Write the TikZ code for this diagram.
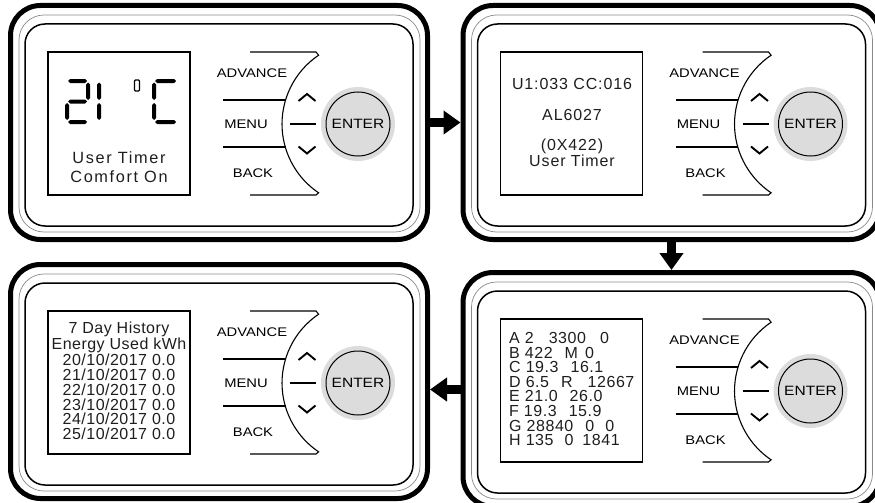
\documentclass[tikz,border=0pt]{standalone}
\usepackage{fontspec}
\setmainfont{Liberation Sans}
\newfontfamily\scrfont{Liberation Sans}
\usetikzlibrary{arrows.meta}
\definecolor{enterfill}{HTML}{DCDCDC}
\definecolor{scrtxt}{HTML}{1E1E1E}
\definecolor{thingray}{HTML}{8A8A8A}

\newcommand{\segh}[3]{%
  \fill (#1,#3) -- ({#1+2},{#3-2}) -- ({#2-2},{#3-2}) -- (#2,#3) -- ({#2-2},{#3+2}) -- ({#1+2},{#3+2}) -- cycle;}
\newcommand{\segv}[3]{%
  \fill (#1,#2) -- ({#1+2},{#2+2}) -- ({#1+2},{#3-2}) -- (#1,#3) -- ({#1-2},{#3-2}) -- ({#1-2},{#2+2}) -- cycle;}
\newcommand{\btntxt}[1]{\scalebox{1.18}[1]{\fontsize{12.5pt}{13pt}\selectfont #1}}

\newcommand{\panelinside}[1]{%
  \draw[thinln] (19,15) rectangle (420,232);
  \draw[medln] (25,24) rectangle (413,226);
  \draw[screenln] (48,52) rectangle (190,195);
  \draw[btnln] (250,52) -- (316,52) -- (318.6,55.2) arc[start angle=124,end angle=236,radius=83pt] -- (316,195) -- (250,195);
  \draw[btnln] (223,100) -- (285.5,100);
  \draw[btnln] (223,147) -- (285.5,147);
  \draw[btnln] (290,124) -- (316,124);
  \draw[chev] (298.5,101) -- (307,94) -- (315.5,101);
  \draw[chev] (298.5,146.5) -- (307,153.5) -- (315.5,146.5);
  \fill[enterfill] (358,124) circle[radius=37pt];
  \node[entercirc] (#1enter) at (358,124) {\scalebox{1.15}[1]{\fontsize{13.5pt}{14pt}\selectfont ENTER}};
  \node[btnlbl] (#1adv) at (252,73) {\btntxt{ADVANCE}};
  \node[btnlbl] (#1menu) at (246,124) {\btntxt{MENU}};
  \node[btnlbl] (#1back) at (253,173) {\btntxt{BACK}};
}

\begin{document}
\begin{tikzpicture}[x=1pt,y=-1pt,
  frame/.style={draw, line width=5pt, rounded corners=30pt, minimum width=417pt, minimum height=234pt, inner sep=0pt},
  thinln/.style={draw=thingray, line width=0.7pt, rounded corners=25pt},
  medln/.style={draw=black, line width=1.5pt, rounded corners=20pt},
  screenln/.style={draw=black, line width=1.1pt},
  btnln/.style={draw=black, line width=1.1pt},
  chev/.style={draw=black, line width=1.9pt},
  entercirc/.style={circle, draw=black, line width=1pt, minimum size=64pt, inner sep=0pt},
  btnlbl/.style={inner sep=0pt, text=black},
  scr/.style={inner sep=0pt, text=scrtxt, font=\scrfont\fontsize{16pt}{18pt}\selectfont},
  flowarrow/.style={line width=9pt, -{Triangle[length=17pt,width=23pt]}}]
\useasboundingbox (0,0) rectangle (875,503);

\node[frame] (p1) at (219,122.5) {};
\node[frame] (p2) at (671.5,122.5) {};
\node[frame] (p3) at (219,381.5) {};
\node[frame] (p4) at (671.5,389.5) {};

% panel 1
\begin{scope}
  \panelinside{p1}
  \begin{scope}[fill=black]
    % digit 2
    \segh{68}{87}{81}
    \segv{88}{82.5}{100}
    \segh{68}{87}{101.5}
    \segv{67}{103}{120}
    \segh{68}{87}{122}
    % digit 1
    \segv{99}{82.5}{100}
    \segv{99}{103}{120}
    % C
    \segh{155}{176}{81}
    \segv{154}{82.5}{100}
    \segv{154}{103}{120}
    \segh{155}{176}{122}
  \end{scope}
  \draw[line width=1.1pt, rounded corners=1pt] (134.5,80) rectangle (139.5,91);
  \node[scr, align=center, font=\scrfont\fontsize{16.3pt}{18.5pt}\selectfont\addfontfeature{LetterSpace=10}] (p1txt) at (119,167) {User Timer\\Comfort On};
\end{scope}

% panel 2
\begin{scope}[shift={(452.5,0)}]
  \panelinside{p2}
  \node[scr, font=\scrfont\fontsize{16pt}{18pt}\selectfont\addfontfeature{LetterSpace=5.5}] (p2l1) at (119.5,84) {U1:033 CC:016};
  \node[scr, font=\scrfont\fontsize{16pt}{18pt}\selectfont\addfontfeature{LetterSpace=5.5}] (p2l2) at (119.5,115) {AL6027};
  \node[scr, align=center, font=\scrfont\fontsize{16pt}{12.5pt}\selectfont\addfontfeature{LetterSpace=5.5}] (p2l3) at (119.5,152.5) {(0X422)\\User Timer};
\end{scope}

% panel 3
\begin{scope}[shift={(0,259)}]
  \panelinside{p3}
  \node[scr, align=center, font=\scrfont\fontsize{16pt}{14.77pt}\selectfont\addfontfeature{LetterSpace=3}] (p3txt) at (119,122) {7 Day History\\Energy Used kWh\\20/10/2017 0.0\\21/10/2017 0.0\\22/10/2017 0.0\\23/10/2017 0.0\\24/10/2017 0.0\\25/10/2017 0.0};
\end{scope}

% panel 4
\begin{scope}[shift={(452.5,267)}]
  \panelinside{p4}
  \node[scr, anchor=west, align=left, font=\scrfont\fontsize{16pt}{14.6pt}\selectfont\addfontfeature{LetterSpace=3.5}] (p4txt) at (56.5,122) {A 2\hspace{15pt}3300\hspace{14pt}0\\B 422\hspace{12pt}M\hspace{7pt}0\\C 19.3\hspace{12pt}16.1\\D 6.5\hspace{12pt}R\hspace{15pt}12667\\E 21.0\hspace{12pt}26.0\\F 19.3\hspace{12pt}15.9\\G 28840\hspace{12pt}0\hspace{11pt}0\\H 135\hspace{11pt}0\hspace{9pt}1841};
\end{scope}

% arrows between panels
\draw[flowarrow] (p1.east) -- (p2.west);
\draw[flowarrow] (p2.south) -- (p2.south |- p4.north);
\draw[flowarrow] (p4.west) -- (p4.west -| p3.east);
\end{tikzpicture}
\end{document}
